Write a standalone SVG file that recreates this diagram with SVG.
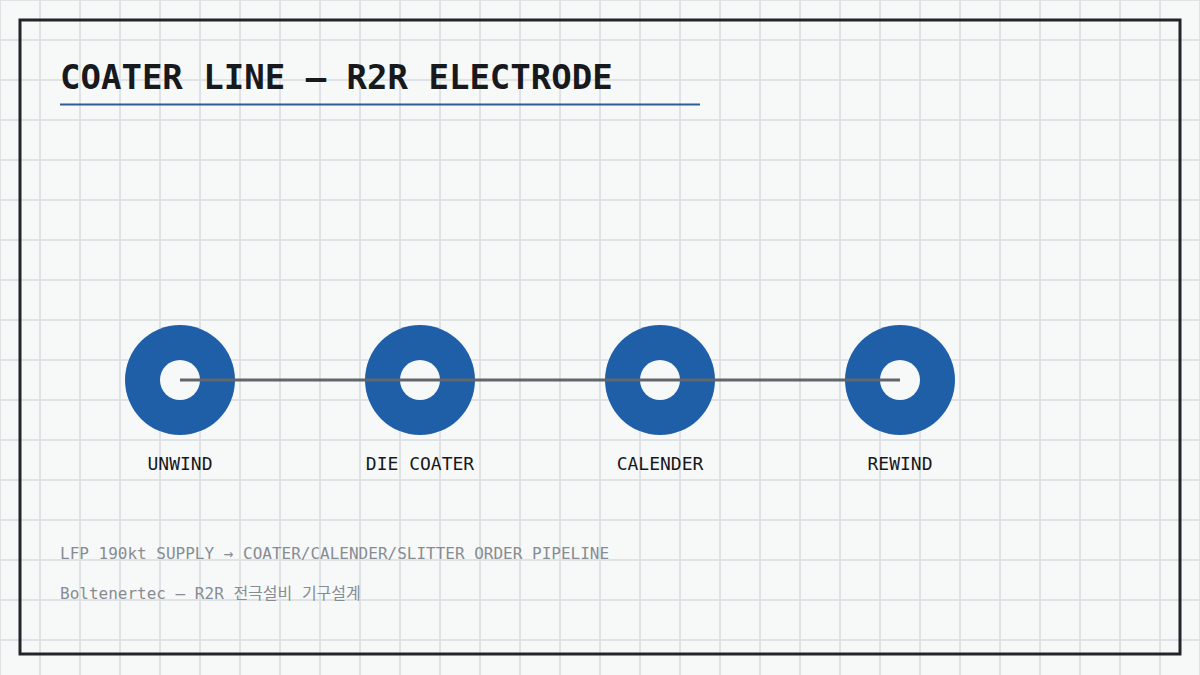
<svg xmlns="http://www.w3.org/2000/svg" width="1200" height="675" viewBox="0 0 1200 675">
  <defs>
    <pattern id="grid" x="0" y="0" width="40" height="40" patternUnits="userSpaceOnUse">
      <path d="M0 0 V40 M40 0 V40 M0 0 H40 M0 40 H40" fill="none" stroke="#e0e3e6" stroke-width="2"/>
    </pattern>
  </defs>
  <style>
    .title { font-family: "DejaVu Sans Mono", "Liberation Mono", monospace; font-weight: bold; font-size: 34px; fill: #17191c; }
    .label { font-family: "DejaVu Sans Mono", "Liberation Mono", monospace; font-size: 18px; fill: #17191c; text-anchor: middle; }
    .foot { font-family: "DejaVu Sans Mono", "Liberation Mono", "Noto Sans CJK KR", monospace; font-size: 16px; fill: #868c94; }
    .roll { fill: #1f5fa8; }
    .core { fill: #f7f8f8; }
  </style>
  <rect x="0" y="0" width="1200" height="675" fill="#f7f8f8"/>
  <rect x="0" y="0" width="1200" height="675" fill="url(#grid)"/>
  <rect x="20" y="20" width="1160" height="634" fill="none" stroke="#22252a" stroke-width="3"/>

  <g id="title">
    <text class="title" x="60" y="89">COATER LINE — R2R ELECTRODE</text>
    <line x1="60" y1="104.5" x2="700" y2="104.5" stroke="#2a5f9a" stroke-width="2"/>
  </g>

  <g id="unwind">
    <circle class="roll" cx="180" cy="380" r="55"/>
    <circle class="core" cx="180" cy="380" r="20"/>
    <text class="label" x="180" y="470">UNWIND</text>
  </g>
  <g id="die-coater">
    <circle class="roll" cx="420" cy="380" r="55"/>
    <circle class="core" cx="420" cy="380" r="20"/>
    <text class="label" x="420" y="470">DIE COATER</text>
  </g>
  <g id="calender">
    <circle class="roll" cx="660" cy="380" r="55"/>
    <circle class="core" cx="660" cy="380" r="20"/>
    <text class="label" x="660" y="470">CALENDER</text>
  </g>
  <g id="rewind">
    <circle class="roll" cx="900" cy="380" r="55"/>
    <circle class="core" cx="900" cy="380" r="20"/>
    <text class="label" x="900" y="470">REWIND</text>
  </g>

  <g id="connectors">
    <line x1="180" y1="380" x2="900" y2="380" stroke="#62676d" stroke-width="3"/>
  </g>

  <g id="footer">
    <text class="foot" x="60" y="559">LFP 190kt SUPPLY → COATER/CALENDER/SLITTER ORDER PIPELINE</text>
    <text class="foot" x="60" y="599">Boltenertec — R2R 전극설비 기구설계</text>
  </g>
</svg>
